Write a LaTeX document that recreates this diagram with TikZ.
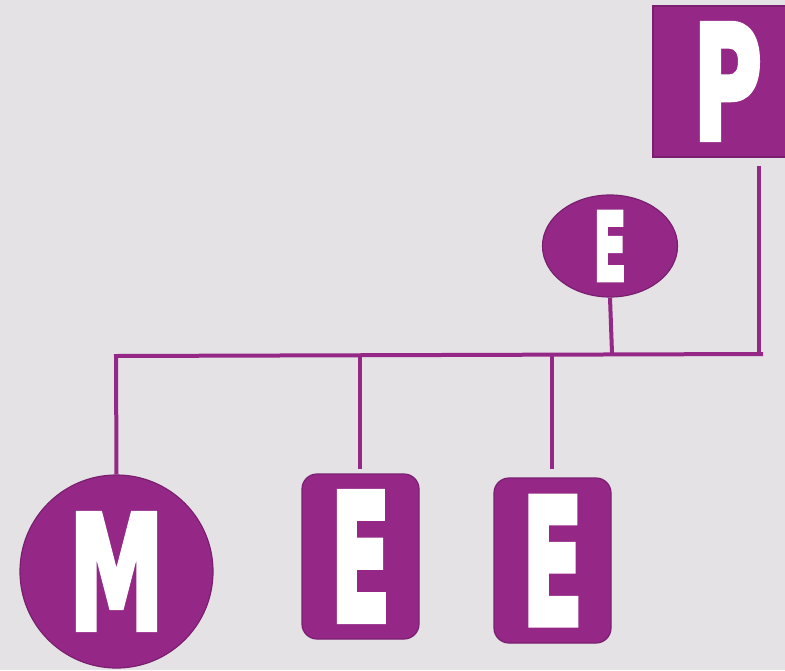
\documentclass[tikz,border=0pt]{standalone}
\usepackage{fontspec}
\usepackage{graphicx}
\usetikzlibrary{shapes.geometric}
\newfontfamily\letterfont{DejaVu Sans Bold}[FakeBold=4]
\definecolor{plum}{HTML}{952887}
\definecolor{plumdark}{HTML}{7A1F70}
\definecolor{paper}{HTML}{E4E2E5}
\tikzstyle{unit}=[draw=plumdark, fill=plum, line width=1.2pt, inner sep=0pt, text=white]
\tikzstyle{card}=[unit, rectangle, rounded corners=15pt, minimum width=117pt, minimum height=165pt]
\tikzstyle{link}=[draw=plum, line width=4pt]
\newcommand{\glyph}[3]{\resizebox{#1pt}{#2pt}{\letterfont #3}}

\begin{document}
\begin{tikzpicture}[x=1pt,y=-1pt]
  \fill[paper] (0,0) rectangle (785,670);
  \useasboundingbox (0,0) rectangle (785,670);
  % units
  \node[unit, rectangle, minimum width=149pt, minimum height=151pt] (p) at (727.5,81.5) {\glyph{69}{115}{P}};
  \node[unit, ellipse, minimum width=135pt, minimum height=102pt] (e0) at (610,246) {\glyph{33}{69}{E}};
  \node[unit, circle, minimum size=193pt] (m) at (116.5,571.5) {\glyph{95}{115}{M}};
  \node[card] (e1) at (360.5,556.5) {\glyph{60}{128}{E}};
  \node[card] (e2) at (552.5,560.5) {\glyph{61}{127}{E}};
  % bus
  \coordinate (bl) at (116,356);
  \coordinate (br) at (763,354);
  \coordinate (j1) at (360,355.5);
  \coordinate (j2) at (552,355);
  \coordinate (j3) at (612,353);
  \coordinate (j4) at (759,353);
  \draw[link, line join=miter] (m.north) -- (bl) -- (br);
  \draw[link, shorten >=4pt] (j1) -- (e1.north -| j1);
  \draw[link, shorten >=8pt] (j2) -- (e2.north -| j2);
  \draw[link] (e0.south) -- (j3);
  \draw[link, shorten <=8pt] (p.south -| j4) -- (j4);
\end{tikzpicture}
\end{document}
